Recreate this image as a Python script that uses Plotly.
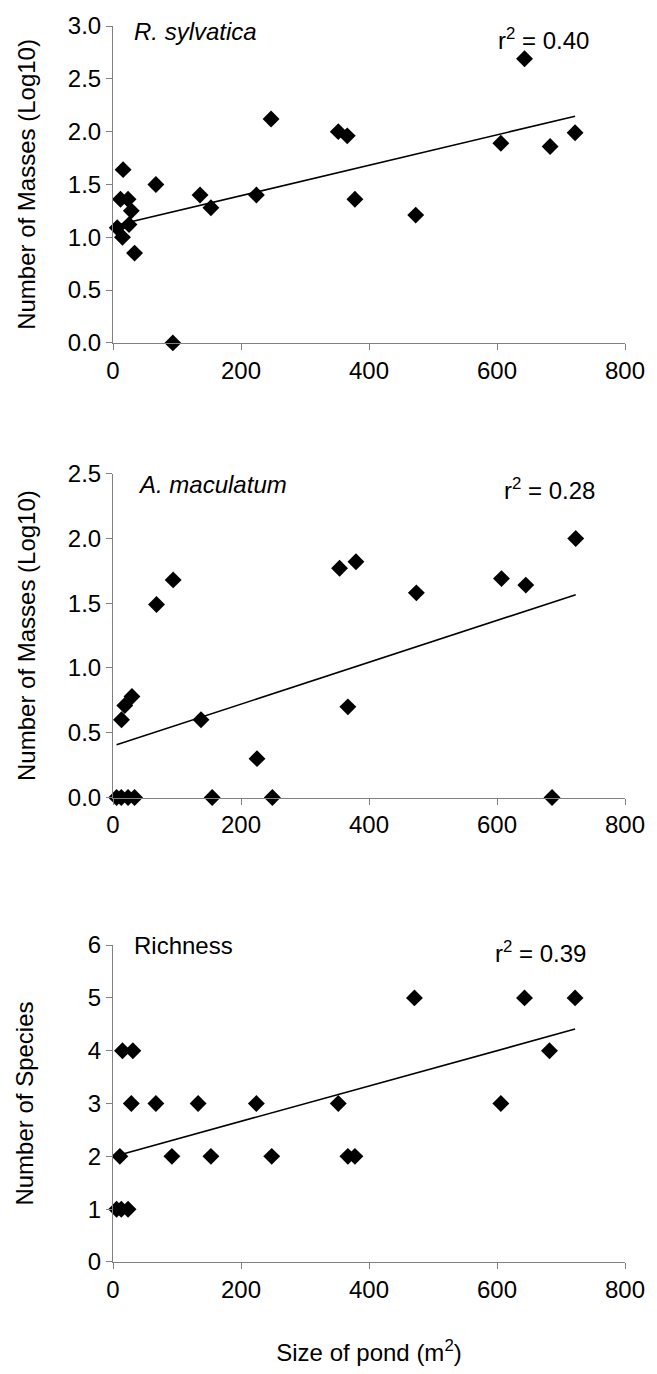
import plotly.graph_objects as go

# ---------------- data ----------------
# Panel 1: R. sylvatica
rs_size = [6.6, 11.7, 15.8, 23.5, 14.8, 25, 28.6, 33.7, 67, 93.5, 136, 153, 224, 247,
           352, 366, 378, 473, 606, 643, 683, 722]
rs_mass = [1.09, 1.36, 1.64, 1.36, 1.00, 1.12, 1.25, 0.85, 1.50, 0.00, 1.40, 1.28, 1.40, 2.12,
           2.00, 1.96, 1.36, 1.21, 1.89, 2.69, 1.86, 1.99]
rs_fit = [1.106, 0.00144]   # intercept, slope
rs_r2 = "0.40"

# Panel 2: A. maculatum
am_size = [5.6, 13, 23.5, 33.7, 13.3, 18.4, 29.6, 68, 94, 137.5, 155, 225, 249,
           354, 367, 379.6, 474, 607, 645, 686, 723]
am_mass = [0.0, 0.0, 0.0, 0.0, 0.60, 0.71, 0.78, 1.49, 1.68, 0.60, 0.0, 0.30, 0.0,
           1.77, 0.70, 1.82, 1.58, 1.69, 1.64, 0.0, 2.00]
am_fit = [0.398, 0.001615]
am_r2 = "0.28"

# Panel 3: Richness
ri_size = [5.6, 10.7, 13, 14.8, 23.5, 28.6, 31, 67, 92, 133, 153, 224, 248,
           352, 367, 378, 471, 606, 643, 682, 722]
ri_species = [1, 2, 1, 4, 1, 3, 4, 3, 2, 3, 2, 3, 2,
              3, 2, 2, 5, 3, 5, 4, 5]
ri_fit = [1.994, 0.003346]
ri_r2 = "0.39"

x_ticks = [0, 200, 400, 600, 800]

# ---------------- figure ----------------
FONT = "Liberation Sans, Arial, sans-serif"
FS = 24
fig = go.Figure()

panels = [
    (rs_size, rs_mass, rs_fit, "x", "y"),
    (am_size, am_mass, am_fit, "x2", "y2"),
    (ri_size, ri_species, ri_fit, "x3", "y3"),
]
for xs, ys, fit, xa, ya in panels:
    fig.add_trace(go.Scatter(
        x=xs, y=ys, mode="markers", xaxis=xa, yaxis=ya,
        marker=dict(symbol="diamond", size=13, color="black", line=dict(width=0)),
        cliponaxis=False, showlegend=False))
    x0, x1 = min(xs), max(xs)
    fig.add_trace(go.Scatter(
        x=[x0, x1], y=[fit[0] + fit[1] * x0, fit[0] + fit[1] * x1],
        mode="lines", xaxis=xa, yaxis=ya,
        line=dict(color="black", width=1.6), showlegend=False))

axis_common = dict(showgrid=False, zeroline=False, showline=True, linecolor="#808080",
                   linewidth=1, ticks="outside", ticklen=6, tickcolor="#808080",
                   tickfont=dict(family=FONT, size=FS, color="black"))

T, B = 20, 106
doms = [(0.7436, 1.0), (0.3758, 0.6378), (0.0, 0.2564)]

fig.update_layout(
    width=657, height=1374,
    margin=dict(l=113, r=22, t=T, b=B),
    paper_bgcolor="white", plot_bgcolor="white",
    font=dict(family=FONT, size=FS, color="black"),
    xaxis=dict(domain=[0, 1], anchor="y", range=[0, 800], tickvals=x_ticks, **axis_common),
    xaxis2=dict(domain=[0, 1], anchor="y2", range=[0, 800], tickvals=x_ticks, **axis_common),
    xaxis3=dict(domain=[0, 1], anchor="y3", range=[0, 800], tickvals=x_ticks,
                title=dict(text="Size of pond (m<sup>2</sup>)", font=dict(size=FS), standoff=42),
                **axis_common),
    yaxis=dict(domain=list(doms[0]), anchor="x", range=[0, 3], dtick=0.5, tickformat=".1f",
               title=dict(text="Number of Masses (Log10)", font=dict(size=FS), standoff=25),
               **axis_common),
    yaxis2=dict(domain=list(doms[1]), anchor="x2", range=[0, 2.5], dtick=0.5, tickformat=".1f",
                title=dict(text="Number of Masses (Log10)", font=dict(size=FS), standoff=25),
                **axis_common),
    yaxis3=dict(domain=list(doms[2]), anchor="x3", range=[0, 6], dtick=1,
                title=dict(text="Number of Species", font=dict(size=FS), standoff=47),
                **axis_common),
)

ann = [
    ("<i>R. sylvatica</i>", 30, 2.95, "x", "y"),
    ("r<sup>2</sup> = " + rs_r2, 598, 2.88, "x", "y"),
    ("<i>A. maculatum</i>", 36, 2.42, "x2", "y2"),
    ("r<sup>2</sup> = " + am_r2, 608, 2.385, "x2", "y2"),
    ("Richness", 30, 6.0, "x3", "y3"),
    ("r<sup>2</sup> = " + ri_r2, 593, 5.87, "x3", "y3"),
]
for text, ax, ay, xr, yr in ann:
    fig.add_annotation(text=text, x=ax, y=ay, xref=xr, yref=yr, xanchor="left",
                       yanchor="middle", showarrow=False,
                       font=dict(family=FONT, size=FS, color="black"))

fig.write_html("out.html", config={"displayModeBar": False, "staticPlot": True},
               post_script="document.body.style.margin='0';document.body.style.overflow='hidden';")
